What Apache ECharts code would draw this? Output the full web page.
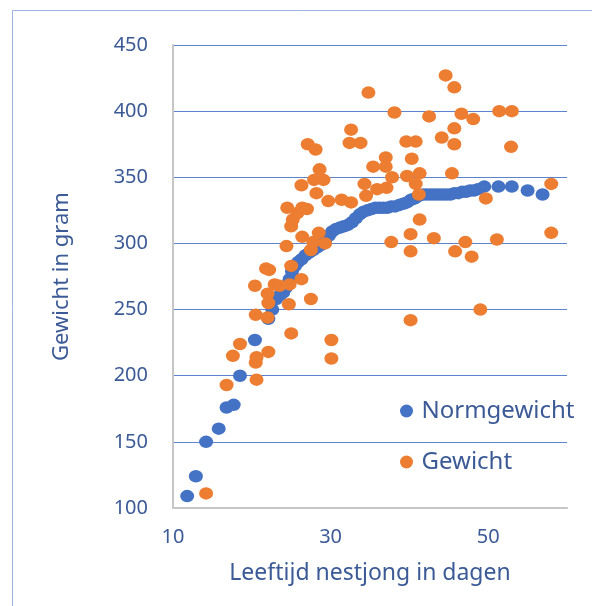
<!DOCTYPE html>
<html>
<head>
<meta charset="utf-8">
<script src="https://cdn.jsdelivr.net/npm/echarts@6/dist/echarts.min.js"></script>
<style>
html,body{margin:0;padding:0;background:#fff;}
#chart{width:592px;height:606px;}
</style>
</head>
<body>
<div id="chart"></div>
<script>
// ---- data ----
const seriesNames = ['Normgewicht', 'Gewicht'];
const xTickLabels = [10, 30, 50];
const yTickLabels = [100, 150, 200, 250, 300, 350, 400, 450];

const normX = [11.8, 12.9, 14.2, 15.8, 16.8, 17.7, 18.5, 20.4, 22.1,
  22.6, 23.1, 23.6, 24.0, 24.4, 24.8, 25.1, 25.5, 25.9, 26.3, 26.8, 27.3, 27.8, 28.3, 28.8, 29.3,
  29.8, 30.2, 30.7, 31.2, 31.7, 32.2, 32.7, 33.2, 33.7, 34.2, 34.7, 35.2, 35.7, 36.2, 36.7, 37.2,
  37.7, 38.2, 38.7, 39.2, 39.7, 40.2, 40.7, 41.2, 41.7, 42.2, 42.7, 43.2, 43.7, 44.2, 44.7, 45.2,
  45.7, 46.2, 46.7, 47.2, 47.7, 48.2, 48.7, 49.5, 51.3, 53.0, 55.0, 56.9];
const normY = [109, 124, 150, 160, 176, 178, 200, 227, 243,
  250, 258, 261, 263, 267, 273, 279, 283, 286, 288, 291, 293, 295, 297, 299, 301,
  306, 309, 311, 312, 313, 314, 316, 319, 322, 324, 325, 326, 327, 327, 327, 327,
  328, 328, 329, 330, 331, 333, 334, 336, 337, 337, 337, 337, 337, 337, 337, 337,
  338, 338, 339, 339, 340, 340, 341, 343, 343, 343, 340, 337];

const gewX = [14.2, 16.8, 17.6, 18.5, 20.4, 20.5, 20.5, 20.6, 20.6, 21.8, 22.2, 22.0, 22.1, 22.0, 22.1,
  22.9, 23.5, 24.4, 24.5, 25.0, 24.8, 24.7, 25.0, 26.3, 26.4, 26.3, 25.2, 25.0, 25.8, 26.4, 27.0,
  27.1, 28.1, 27.5, 27.5, 27.8, 28.5, 28.6, 27.9, 29.1, 28.2, 29.3, 29.7, 30.1, 30.1, 31.4, 32.6,
  32.6, 32.4, 33.8, 34.8, 34.3, 34.5, 35.4, 35.9, 37.0, 37.0, 37.1, 37.8, 38.1, 37.7, 39.6, 40.8,
  40.3, 39.7, 41.3, 40.8, 41.2, 40.15, 40.15, 40.15, 41.3, 42.5, 43.1, 44.1, 44.6, 45.7, 45.7, 45.7,
  45.4, 45.8, 46.6, 47.1, 48.1, 47.9, 49.0, 49.7, 51.4, 53.0, 52.9, 51.1, 58.0, 58.0];
const gewY = [111, 193, 215, 224, 268, 246, 210, 214, 197, 281, 280, 262, 255, 244, 218,
  269, 268, 298, 327, 283, 269, 254, 232, 273, 305, 344, 318, 313, 323, 327, 326,
  375, 371, 258, 295, 301, 308, 356, 348, 348, 338, 300, 332, 227, 213, 333, 331,
  386, 376, 376, 414, 345, 336, 358, 341, 365, 358, 342, 350, 399, 301, 377, 377,
  364, 351, 353, 345, 337, 307, 294, 242, 318, 396, 304, 380, 427, 418, 387, 375,
  353, 294, 398, 301, 394, 290, 250, 334, 400, 400, 373, 303, 345, 308];

const zip = (xs, ys) => xs.map((x, i) => [x, ys[i]]);

const textColor = '#3B5A96';
const fontFam = 'Noto Sans';

const chart = echarts.init(document.getElementById('chart'));
chart.setOption({
  animation: false,
  backgroundColor: '#fff',
  textStyle: { fontFamily: fontFam },
  graphic: [{
    type: 'rect', silent: true, z: -1,
    shape: { x: 12.5, y: 10.5, width: 900, height: 900 },
    style: { fill: 'none', stroke: '#9DB5E1', lineWidth: 1 }
  }],
  grid: { left: 173, right: 25, top: 45, bottom: 98, containLabel: false },
  legend: {
    orient: 'vertical',
    left: 395, top: 394,
    itemWidth: 20, itemHeight: 13, itemGap: 27,
    icon: 'circle',
    data: seriesNames,
    textStyle: { fontSize: 24, color: textColor, fontFamily: fontFam, padding: [0, 0, 0, 0] }
  },
  xAxis: {
    type: 'value', min: 10, max: 60, interval: 10,
    name: 'Leeftijd nestjong in dagen', nameLocation: 'middle', nameGap: 54,
    nameTextStyle: { fontSize: 23, color: textColor, fontFamily: fontFam },
    axisLine: { show: true, lineStyle: { color: '#C6C6C6', width: 2 } },
    axisTick: { show: false },
    splitLine: { show: false },
    axisLabel: {
      fontSize: 20, color: textColor, margin: 19, fontFamily: fontFam,
      formatter: v => xTickLabels.includes(v) ? String(v) : ''
    }
  },
  yAxis: {
    type: 'value', min: 100, max: 450, interval: 50,
    name: 'Gewicht in gram', nameLocation: 'middle', nameGap: 100, nameRotate: 90,
    nameTextStyle: { fontSize: 22, color: textColor, fontFamily: fontFam },
    axisLine: { show: true, lineStyle: { color: '#C6C6C6', width: 2 } },
    axisTick: { show: false },
    splitLine: { show: true, showMinLine: false, lineStyle: { color: '#5B84CC', width: 1 } },
    axisLabel: {
      fontSize: 20, color: textColor, margin: 25, fontFamily: fontFam,
      formatter: v => yTickLabels.includes(v) ? String(v) : ''
    }
  },
  series: [
    {
      name: seriesNames[0], type: 'scatter', symbol: 'circle', symbolSize: [14, 12.5],
      itemStyle: { color: '#4472C4', opacity: 1 },
      data: zip(normX, normY), z: 2
    },
    {
      name: seriesNames[1], type: 'scatter', symbol: 'circle', symbolSize: [14, 12.5],
      itemStyle: { color: '#ED7D31', opacity: 1 },
      data: zip(gewX, gewY), z: 3
    }
  ]
});
</script>
</body>
</html>
